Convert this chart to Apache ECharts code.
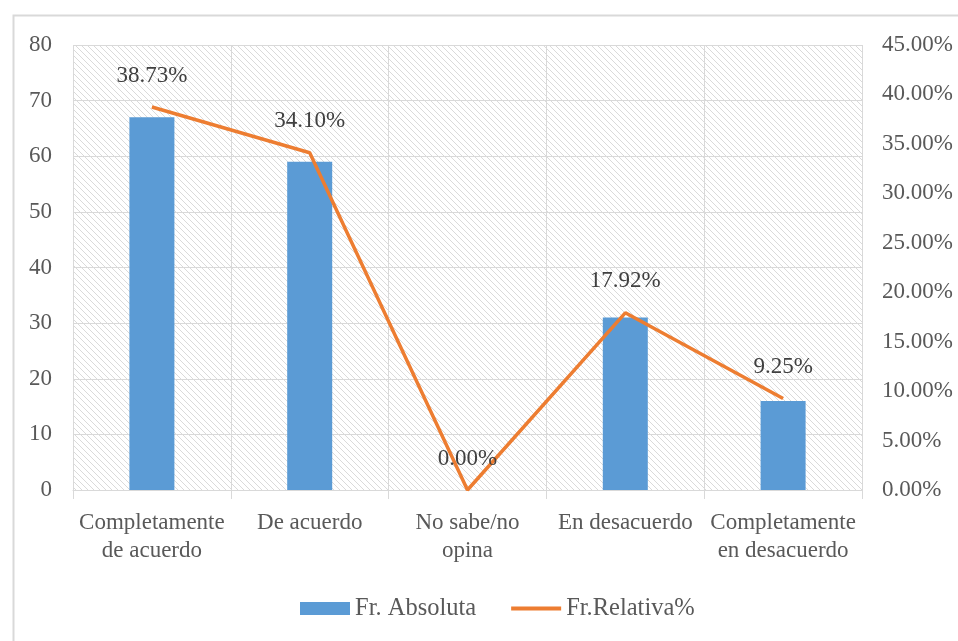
<!DOCTYPE html>
<html>
<head>
<meta charset="utf-8">
<script src="https://cdn.jsdelivr.net/npm/echarts@6/dist/echarts.min.js"></script>
<style>
  html, body { margin: 0; padding: 0; background: #fff; }
  #chart { width: 958px; height: 641px; }
</style>
</head>
<body>
<div id="chart"></div>
<script>
// Survey answers: absolute frequency (bars) and relative frequency in % (line)
const categories = ['Completamente\nde acuerdo', 'De acuerdo', 'No sabe/no\nopina', 'En desacuerdo', 'Completamente\nen desacuerdo'];
const absoluteFreq = [67, 59, 0, 31, 16];
const relativeFreq = [38.73, 34.10, 0.00, 17.92, 9.25];
const leftTicks = { min: 0, max: 80, interval: 10 };
const rightTicks = { min: 0, max: 45, interval: 5 };

const FONT = '"Liberation Serif", "Times New Roman", serif';
const TEXT = '#595959';
const FS = 23;

// Diagonal hatch tile for the plot background
function hatchTile() {
  const s = 6;
  const c = document.createElement('canvas');
  c.width = s; c.height = s;
  const g = c.getContext('2d');
  g.fillStyle = '#ffffff';
  g.fillRect(0, 0, s, s);
  g.strokeStyle = '#dadada';
  g.lineWidth = 1;
  g.beginPath();
  g.moveTo(-1, -1); g.lineTo(s + 1, s + 1);
  g.moveTo(-1, s - 1); g.lineTo(1, s + 1);
  g.moveTo(s - 1, -1); g.lineTo(s + 1, 1);
  g.stroke();
  return c;
}

const chart = echarts.init(document.getElementById('chart'), null, { renderer: 'canvas' });

chart.setOption({
  animation: false,
  backgroundColor: '#ffffff',
  textStyle: { fontFamily: FONT, color: TEXT },
  graphic: [{
    type: 'rect',
    left: 11, top: 13,
    shape: { width: 1000, height: 700 },
    style: { fill: 'none', stroke: '#d9d9d9', lineWidth: 2 },
    silent: true,
    z: -1
  }],
  grid: {
    left: 73, right: 96, top: 45, bottom: 151,
    show: true,
    borderWidth: 0,
    backgroundColor: { image: hatchTile(), repeat: 'repeat' }
  },
  legend: {
    top: 591,
    left: 295,
    itemWidth: 50,
    itemHeight: 13,
    itemGap: 33,
    textStyle: { fontFamily: FONT, fontSize: 24.5, color: TEXT },
    data: [
      { name: 'Fr. Absoluta', icon: 'rect' },
      { name: 'Fr.Relativa%', itemStyle: { opacity: 0 }, lineStyle: { width: 4 } }
    ]
  },
  xAxis: {
    type: 'category',
    data: categories,
    boundaryGap: true,
    axisLine: { show: true, lineStyle: { color: '#d9d9d9', width: 1 } },
    axisTick: { show: true, length: 9, lineStyle: { color: '#d9d9d9' } },
    splitLine: { show: true, lineStyle: { color: '#d9d9d9', width: 1 } },
    axisLabel: {
      margin: 19,
      fontFamily: FONT, fontSize: FS, color: TEXT,
      lineHeight: 28,
      interval: 0
    }
  },
  yAxis: [
    {
      type: 'value',
      min: leftTicks.min, max: leftTicks.max, interval: leftTicks.interval,
      axisLine: { show: false },
      axisTick: { show: false },
      splitLine: { show: true, lineStyle: { color: '#d9d9d9', width: 1 } },
      axisLabel: { margin: 21, fontFamily: FONT, fontSize: FS, color: TEXT }
    },
    {
      type: 'value',
      position: 'right',
      min: rightTicks.min, max: rightTicks.max, interval: rightTicks.interval,
      axisLine: { show: false },
      axisTick: { show: false },
      splitLine: { show: false },
      axisLabel: {
        margin: 20, fontFamily: FONT, fontSize: FS, color: TEXT,
        formatter: v => v.toFixed(2) + '%'
      }
    }
  ],
  series: [
    {
      name: 'Fr. Absoluta',
      type: 'bar',
      yAxisIndex: 0,
      data: absoluteFreq,
      barWidth: 45,
      itemStyle: { color: '#5B9BD5' }
    },
    {
      name: 'Fr.Relativa%',
      type: 'line',
      yAxisIndex: 1,
      data: relativeFreq,
      symbol: 'circle',
      symbolSize: 0,
      showSymbol: true,
      lineStyle: { color: '#ED7D31', width: 3.5 },
      itemStyle: { color: '#ED7D31' },
      label: {
        show: true,
        position: 'top',
        distance: 20,
        fontFamily: FONT, fontSize: FS, color: '#404040',
        formatter: p => p.value.toFixed(2) + '%'
      },
      z: 3
    }
  ]
});
</script>
</body>
</html>
